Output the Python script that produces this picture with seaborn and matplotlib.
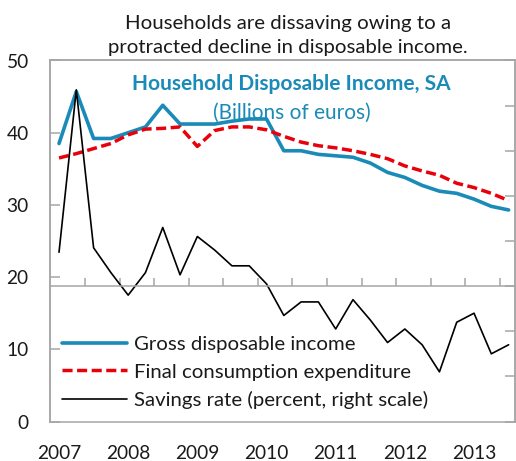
import numpy as np
import pandas as pd
import matplotlib
matplotlib.use("Agg")
import matplotlib.pyplot as plt
import seaborn as sns
from matplotlib.ticker import FixedLocator, FixedFormatter

# Quarterly data, 2007Q1 - 2013Q3
quarters = [f"{y}Q{q}" for y in range(2007, 2014) for q in range(1, 5)][:27]
gross_disposable_income = [38.5, 45.7, 39.2, 39.2, 40.0, 40.8, 43.8, 41.2, 41.2, 41.2,
                           41.6, 41.9, 41.9, 37.5, 37.5, 37.0, 36.8, 36.6, 35.8, 34.5,
                           33.8, 32.7, 31.9, 31.6, 30.8, 29.8, 29.3]
final_consumption = [36.5, 37.1, 37.8, 38.5, 39.7, 40.5, 40.6, 40.8, 38.1, 40.3,
                     40.8, 40.8, 40.4, 39.5, 38.7, 38.2, 37.9, 37.5, 37.0, 36.4,
                     35.4, 34.7, 34.1, 33.0, 32.4, 31.6, 30.6]
savings_rate = [1.5, 8.7, 1.7, 0.6, -0.4, 0.6, 2.6, 0.5, 2.2, 1.6,
                0.9, 0.9, 0.1, -1.3, -0.7, -0.7, -1.9, -0.6, -1.5, -2.5,
                -1.9, -2.6, -3.8, -1.6, -1.2, -3.0, -2.6]
year_labels = ["2007", "2008", "2009", "2010", "2011", "2012", "2013"]
left_ticks = [0, 10, 20, 30, 40, 50]
right_ticks = [-6, -4, -2, 0, 2, 4, 6, 8, 10]

df = pd.DataFrame({
    "idx": np.arange(len(quarters)),
    "quarter": quarters,
    "gdi": gross_disposable_income,
    "fce": final_consumption,
    "sav": savings_rate,
})

sns.set_style("white")
plt.rcParams["font.family"] = ["Lato", "DejaVu Sans"]

BLUE = "#1a8ab8"
RED = "#e8000a"
GRID = "#a6a6a6"
TXT = "#1a1a1a"

fig = plt.figure(figsize=(5.16, 4.61), dpi=100)
ax = fig.add_axes([49.5 / 516, 39.5 / 461, 465.5 / 516, 361 / 461])
ax2 = ax.twinx()

sns.lineplot(data=df, x="idx", y="gdi", ax=ax, color=BLUE, lw=2.6,
             label="Gross disposable income", legend=False)
sns.lineplot(data=df, x="idx", y="fce", ax=ax, color=RED, lw=2.5,
             linestyle=(0, (2.9, 1.3)), label="Final consumption expenditure", legend=False)
sns.lineplot(data=df, x="idx", y="sav", ax=ax2, color="black", lw=1.2,
             label="Savings rate (percent, right scale)", legend=False)

n = len(quarters)
ax.set_xlim(-0.55, n - 0.63)
ax.set_ylim(0, 50)
ax2.set_ylim(-6, 10)

# year labels under the first quarter, tick marks every half year
year_pos = list(range(0, n, 4))
half_pos = [i + 1.5 for i in range(0, n - 1, 2)]
ax.xaxis.set_major_locator(FixedLocator(year_pos))
ax.xaxis.set_major_formatter(FixedFormatter(year_labels))
ax.xaxis.set_minor_locator(FixedLocator(half_pos))
ax.tick_params(axis="x", which="major", length=0, pad=17, labelsize=13.8, labelcolor=TXT)
ax.tick_params(axis="x", which="minor", direction="in", length=6, width=1.1, color=GRID)
ax.set_yticks(left_ticks)
ax.tick_params(axis="y", direction="in", length=7, width=1.1, color=GRID,
               pad=15, labelsize=13.8, labelcolor=TXT)
ax.set_xlabel("")
ax.set_ylabel("")

# category axis of the right scale crosses at zero
ax2.xaxis.set_visible(True)
ax2.spines["bottom"].set_position(("data", 0))
ax2.tick_params(axis="x", which="major", length=0, labelbottom=False)
ax2.tick_params(axis="x", which="minor", direction="in", length=6, width=1.1,
                color=GRID, bottom=True, labelbottom=False)
ax2.set_yticks(right_ticks)
ax2.tick_params(axis="y", direction="in", length=7, width=1.1, color=GRID,
                labelright=False)
ax2.set_xlabel("")
ax2.set_ylabel("")

for a in (ax, ax2):
    for s in a.spines.values():
        s.set_color(GRID)
        s.set_linewidth(1.1)

fig.text(0.558, 0.922, "Households are dissaving owing to a\nprotracted decline in disposable income.",
         ha="center", va="center", fontsize=14.7, color=TXT, linespacing=1.5)
ax.text(0.52, 0.934, "Household Disposable Income, SA", transform=ax.transAxes,
        ha="center", va="center", fontsize=15, fontweight="bold", color=BLUE)
ax.text(0.52, 0.855, "(Billions of euros)", transform=ax.transAxes,
        ha="center", va="center", fontsize=15, color=BLUE)

h1, l1 = ax.get_legend_handles_labels()
h2, l2 = ax2.get_legend_handles_labels()
leg = ax2.legend(h1 + h2, l1 + l2, loc="lower left", bbox_to_anchor=(0.0, 0.0),
                 frameon=False, fontsize=14.7, handlelength=3.2, handletextpad=0.35,
                 labelspacing=0.52, borderaxespad=0.2)
for t in leg.get_texts():
    t.set_color(TXT)

fig.savefig("out.png", dpi=100)
